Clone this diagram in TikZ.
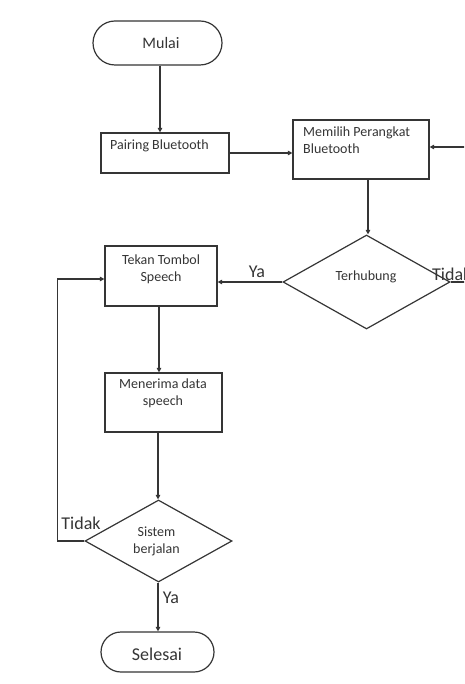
\documentclass[tikz,border=0pt]{standalone}
\usepackage{fontspec}
\setmainfont{Carlito}
\usetikzlibrary{shapes.geometric,arrows.meta,calc}
\definecolor{ink}{HTML}{353535}
\begin{document}
\begin{tikzpicture}[x=1pt,y=-1pt,
  every node/.style={inner sep=0pt, text=ink},
  flow/.style={draw=ink, line width=1.2pt},
  term/.style={flow, rectangle, rounded corners=20pt},
  procbox/.style={flow, rectangle},
  decide/.style={flow, diamond},
  arr/.style={draw=ink, line width=1.2pt, -{Triangle[length=4.5pt,width=4.5pt]}},
  boxtext/.style={font=\fontsize{14}{17}\selectfont},
  lbl/.style={font=\fontsize{18}{20}\selectfont}]
\useasboundingbox (0,0) rectangle (464,684);
\clip (0,0) rectangle (464,684);
\fill[white] (0,0) rectangle (464,684);

% shapes
\node[term, minimum width=129pt, minimum height=44pt, rounded corners=22pt] (mulai) at (157.5,43) {};
\node[procbox, minimum width=128pt, minimum height=40pt] (pair) at (165,153) {};
\node[procbox, minimum width=136pt, minimum height=59pt] (memilih) at (361,149.5) {};
\node[decide, minimum width=167pt, minimum height=94pt] (hub) at (366.5,282) {};
\node[procbox, minimum width=112pt, minimum height=60pt] (tekan) at (161,276) {};
\node[procbox, minimum width=117pt, minimum height=59pt] (terima) at (163.5,402.5) {};
\node[decide, minimum width=147pt, minimum height=82pt] (sistem) at (158.5,541) {};
\node[term, minimum width=113pt, minimum height=40pt] (selesai) at (157.5,652) {};

% texts
\node[font=\fontsize{16}{18}\selectfont] (mulai-t) at (161,43) {Mulai};
\node[boxtext, anchor=west] (pair-t) at (110,146) {Pairing Bluetooth};
\node[boxtext, anchor=west, align=left] (memilih-t) at (303,140.5) {Memilih Perangkat\\Bluetooth};
\node[boxtext] (hub-t) at (366,277) {Terhubung};
\node[boxtext, align=center] (tekan-t) at (161,269) {Tekan Tombol\\Speech};
\node[boxtext, align=center] (terima-t) at (163,393.5) {Menerima data\\speech};
\node[boxtext, align=center] (sistem-t) at (156.5,541.5) {Sistem\\berjalan};
\node[font=\fontsize{18}{20}\selectfont] (selesai-t) at (157,654) {Selesai};

% labels
\node[lbl] (ya1) at (257,272) {Ya};
\node[lbl, anchor=west] (tidak1) at (432,274) {Tidak};
\node[lbl] (tidak2) at (81,523) {Tidak};
\node[lbl] (ya2) at (171,598) {Ya};

% helper coordinates
\coordinate (x160) at (160,0);
\coordinate (x159) at (159,0);
\coordinate (x158) at (158,0);
\coordinate (x368) at (368,0);

% connectors
\draw[arr] (mulai.south -| x160) -- (pair.north -| x160);
\draw[arr] (pair.east) -- (pair.east -| memilih.west);
\draw[arr] (memilih.south -| x368) -- (hub.north -| x368);
\draw[arr] (hub.east) -- ++(40,0) |- ($(memilih.east)+(0,-2.5)$);
\draw[arr] (hub.west) -- (hub.west -| tekan.east);
\draw[arr] (tekan.south -| x159) -- (terima.north -| x159);
\draw[arr] (terima.south -| x158) -- (sistem.north -| x158);
\draw[arr] (sistem.west) -- ++(-27,0) |- ($(tekan.west)+(0,3)$);
\draw[arr] (sistem.south -| x158) -- (selesai.north -| x158);
\end{tikzpicture}
\end{document}
